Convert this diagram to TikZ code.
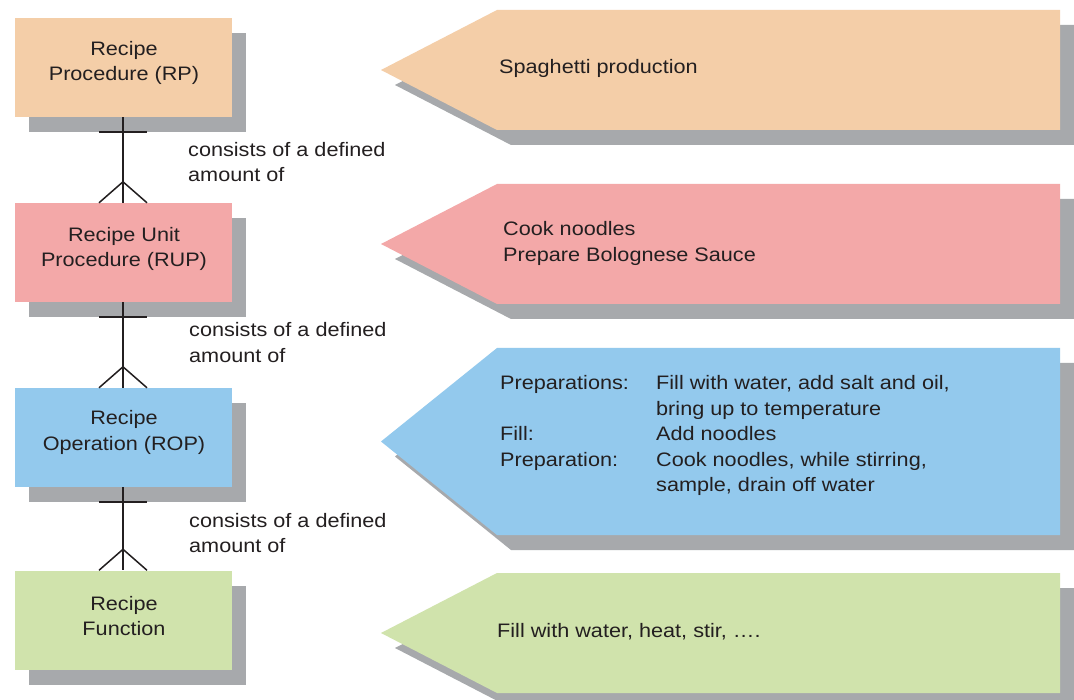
\documentclass[tikz,border=0pt]{standalone}
\usepackage{fontspec}
\setmainfont{Liberation Sans}[FakeStretch=1.11]
\usetikzlibrary{shadows}
\definecolor{rpfill}{HTML}{F4CEA8}
\definecolor{rupfill}{HTML}{F3A8A8}
\definecolor{ropfill}{HTML}{93C9ED}
\definecolor{rffill}{HTML}{D0E3AC}
\definecolor{shadowgray}{HTML}{A7A9AC}
\definecolor{ink}{HTML}{231F20}
\tikzset{
  shade box/.style={drop shadow={shadow xshift=14pt, shadow yshift=-15pt, fill=shadowgray, opacity=1}},
  levelbox/.style={shade box, minimum width=217pt, minimum height=99pt, inner sep=0pt, draw=none},
  txt/.style={font=\fontsize{19.5}{25.5}\selectfont, text=ink, inner sep=0pt},
  conn/.style={draw=ink, line width=1.5pt},
  tag/.style={shade box, draw=none}
}
% two-line blocks whose baseline is that of the first line
\newcommand{\twolines}[2]{\begin{tabular}[t]{@{}c@{}}#1\\#2\end{tabular}}
\newcommand{\twoleft}[2]{\begin{tabular}[t]{@{}l@{}}#1\\#2\end{tabular}}
\begin{document}
\begin{tikzpicture}[x=1pt, y=-1pt]
  \fill[white] (0,0) rectangle (1074,700);
  \useasboundingbox (0,0) rectangle (1074,700);

  % hierarchy levels
  \node[levelbox, fill=rpfill]  (b1) at (123,67.5)  {};
  \node[levelbox, fill=rupfill] (b2) at (123,252.5) {};
  \node[levelbox, fill=ropfill] (b3) at (123,437.5) {};
  \node[levelbox, fill=rffill]  (b4) at (123,620)   {};

  \node[txt, anchor=base] (t1) at (124,55.5)  {\twolines{Recipe}{Procedure (RP)}};
  \node[txt, anchor=base] (t2) at (124,241.5) {\twolines{Recipe Unit}{Procedure (RUP)}};
  \node[txt, anchor=base] (t3) at (124,425)   {\twolines{Recipe}{Operation (ROP)}};
  \node[txt, anchor=base] (t4) at (124,610)   {\twolines{Recipe}{Function}};

  % one-to-many connectors
  \foreach \a/\b in {b1/b2, b2/b3, b3/b4}{
    \draw[conn] (\a.south) -- (\b.north);
    \draw[conn] (\a.south) ++(-24,15) -- ++(48,0);
    \draw[conn] (\b.north) ++(-24,0) -- ++(24,-21) -- ++(24,21);
  }

  \node[txt, anchor=base west] (c1) at (188,156.5) {\twoleft{consists of a defined}{amount of}};
  \node[txt, anchor=base west] (c2) at (189,337)   {\twoleft{consists of a defined}{amount of}};
  \node[txt, anchor=base west] (c3) at (189,527)   {\twoleft{consists of a defined}{amount of}};

  % example tags
  \fill[tag, fill=rpfill]  (381,70)    -- (497,10)  -- (1060,10)  -- (1060,130) -- (497,130) -- cycle;
  \fill[tag, fill=rupfill] (381,244)   -- (497,184) -- (1060,184) -- (1060,304) -- (497,304) -- cycle;
  \fill[tag, fill=ropfill] (381,441.5) -- (497,348) -- (1060,348) -- (1060,535) -- (497,535) -- cycle;
  \fill[tag, fill=rffill]  (381,633)   -- (497,573) -- (1060,573) -- (1060,693) -- (497,693) -- cycle;

  \node[txt, anchor=base west] (e1) at (499,74) {Spaghetti production};
  \node[txt, anchor=base west] (e2) at (503,236) {\twoleft{Cook noodles}{Prepare Bolognese Sauce}};
  \node[txt, anchor=base west] (e3) at (500,390) {\begin{tabular}[t]{@{}p{156pt}@{}l@{}}
    Preparations: & Fill with water, add salt and oil,\\
                  & bring up to temperature\\
    Fill:         & Add noodles\\
    Preparation:  & Cook noodles, while stirring,\\
                  & sample, drain off water
  \end{tabular}};
  \node[txt, anchor=base west] (e4) at (497,637) {Fill with water, heat, stir, ….};
\end{tikzpicture}
\end{document}
